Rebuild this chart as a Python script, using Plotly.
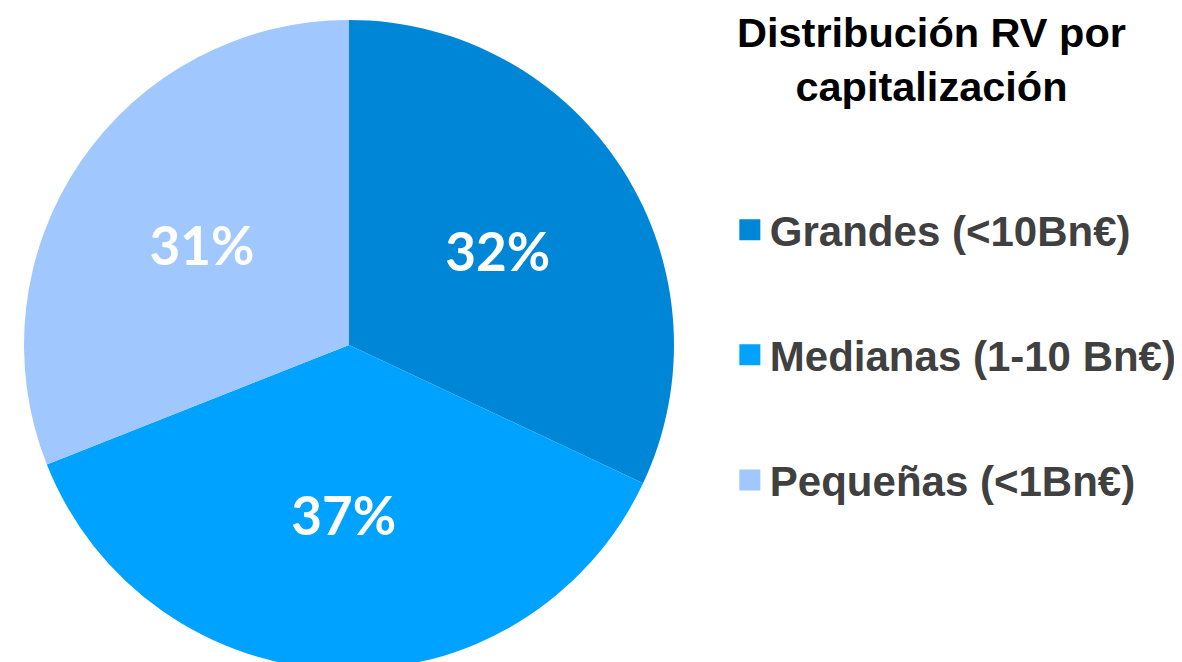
import plotly.graph_objects as go

categories = ["Grandes (<10Bn€)", "Medianas (1-10 Bn€)", "Pequeñas (<1Bn€)"]
values = [32, 37, 31]
colors = ["#0086D6", "#00A2FF", "#A0C8FF"]
title_text = "Distribución RV por<br>capitalización"

fig = go.Figure()
fig.add_trace(go.Pie(
    labels=categories, values=values, sort=False, direction="clockwise", rotation=0,
    marker=dict(colors=colors),
    textinfo="percent", textposition="inside", insidetextorientation="horizontal",
    textfont=dict(family="Lato", size=53, color="white", weight="bold"),
    showlegend=False,
    domain=dict(x=[16 / 1182, 666 / 1182], y=[0, 0.982]),
))
for name, col in zip(categories, colors):
    fig.add_trace(go.Scatter(
        x=[None], y=[None], mode="markers", name=name, legendgroup=name,
        marker=dict(symbol="square", size=16, color=col, line=dict(color=col, width=5)),
    ))

fig.update_layout(
    width=1182, height=662,
    margin=dict(l=0, r=0, t=0, b=0),
    paper_bgcolor="white", plot_bgcolor="white",
    xaxis=dict(visible=False), yaxis=dict(visible=False),
    annotations=[dict(text=title_text, x=923 / 1182, xref="paper", xanchor="center",
                      y=1.002, yref="paper", yanchor="top", showarrow=False,
                      font=dict(family="Liberation Sans, Arial", size=41.5, color="black", weight="bold"))],
    legend=dict(x=0.6107, xanchor="left", y=0.476, yanchor="middle",
                traceorder="grouped", tracegroupgap=67.5,
                font=dict(family="Liberation Sans, Arial", size=42, color="#404040", weight="bold"),
                bgcolor="rgba(0,0,0,0)"),
)
fig.write_html("out.html")
